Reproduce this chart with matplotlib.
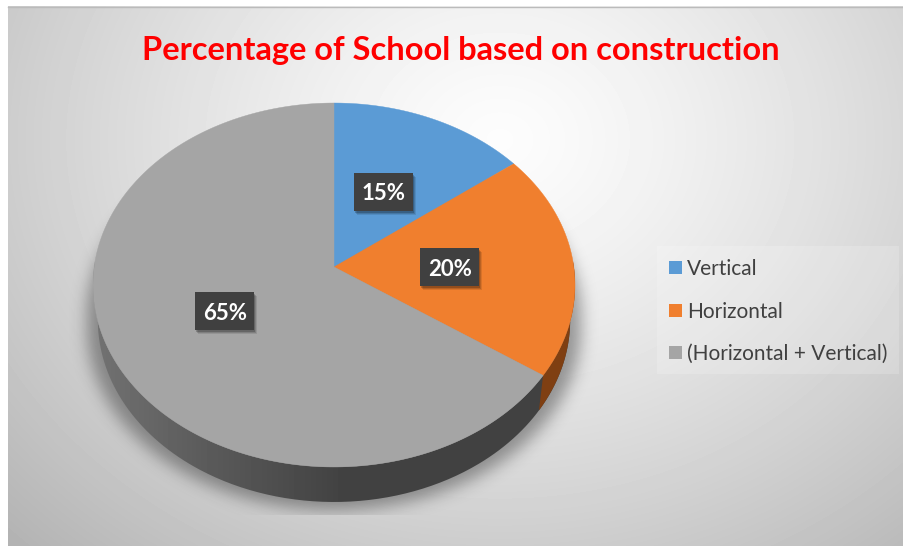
import numpy as np
import matplotlib
matplotlib.use("Agg")
import matplotlib.pyplot as plt
from matplotlib.patches import Rectangle
from matplotlib.path import Path

TITLE = "Percentage of School based on construction"
CATEGORIES = ["Vertical", "Horizontal", "(Horizontal + Vertical)"]
VALUES = [15, 20, 65]
COLORS = ["#5B9BD5", "#F07F2E", "#A5A5A5"]
SIDE_COLORS = ["#2F5F8A", "#7F3F12", None]

W, H = 904, 547
APEX = (334, 267)
DEPTH = 35
BOTTOM_SCALE = 0.98
# perspective of the tilted disc, fitted to the picture
A, B, K = 239.8, 180.2, 0.0989
LABEL_XY = [(384, 192), (450, 267), (225, 311)]
LEGEND_Y = [267, 310, 352]


def project(theta):
    theta = theta - 0.03 * np.sin(theta)
    x, y = np.sin(theta), np.cos(theta)
    den = 1 + K * y
    return APEX[0] + A * x / den, APEX[1] - B * y / den


def lower_rim(sx, sy):
    return APEX[0] + (sx - APEX[0]) * BOTTOM_SCALE, sy + DEPTH


def blur(img, sigma):
    fy = np.fft.fftfreq(img.shape[0])[:, None]
    fx = np.fft.fftfreq(img.shape[1])[None, :]
    g = np.exp(-2 * (np.pi * sigma) ** 2 * (fx ** 2 + fy ** 2))
    return np.real(np.fft.ifft2(np.fft.fft2(img) * g))


fig = plt.figure(figsize=(W / 100, H / 100), dpi=100, facecolor="white")
ax = fig.add_axes([0, 0, 1, 1])

# background gradient
xx, yy = np.meshgrid(np.arange(W) + 0.5, np.arange(H) + 0.5)
d = np.hypot((xx - 500) / 520, (yy - 140) / 430)
bg = np.clip(0.99 - 0.2 * d ** 1.3, 0, 1)
extent = (8, W, 546, 6)
x0, x1, y1, y0 = extent
ax.imshow(bg[y0:y1, x0:x1], cmap="gray", vmin=0, vmax=1, extent=extent,
          aspect="auto", zorder=0, interpolation="bilinear")
ax.plot([8, W], [6.5, 6.5], color="#BBBBBB", lw=1, zorder=1)

# outline of disc
t = np.linspace(0, 2 * np.pi, 721)
ex, ey = project(t)

# soft shadow under the pie, cut off flat at the bottom
pts = np.column_stack([xx.ravel(), yy.ravel()])
wide = APEX[0] + (ex - APEX[0]) * 1.025
sil = Path(np.column_stack([wide, ey + DEPTH + 8])).contains_points(pts).reshape(H, W)
sil |= Path(np.column_stack([wide, ey + 30])).contains_points(pts).reshape(H, W)
shadow = blur(sil.astype(float), 8)
shadow[515:, :] = 0
rgba = np.zeros((H, W, 4))
rgba[..., 3] = 0.36 * shadow
rgba[:y0, :] = 0
rgba[:, :x0] = 0
ax.imshow(rgba, extent=(0, W, H, 0), aspect="auto", zorder=1.5)

# side wall, dark gradient
grad = np.interp(np.arange(W), [90, 200, 340, 580], [0.45, 0.36, 0.26, 0.26])
im = ax.imshow(np.tile(grad, (H, 1)), cmap="gray", vmin=0, vmax=1,
               extent=(0, W, H, 0), aspect="auto", zorder=2)
lower = np.linspace(np.pi / 2, 3 * np.pi / 2, 361)
lx, ly = project(lower)
bx, by = lower_rim(lx, ly)
wall = np.column_stack([np.r_[lx, bx[::-1]], np.r_[ly, by[::-1]]])
im.set_clip_path(Path(wall), transform=ax.transData)

# wedges
edges = np.cumsum([0] + VALUES) / sum(VALUES) * 2 * np.pi
for i, val in enumerate(VALUES):
    th = np.linspace(edges[i], edges[i + 1], max(int(val * 6), 8))
    px, py = project(th)
    if SIDE_COLORS[i] is not None:
        vis = th[(th >= np.pi / 2) & (th <= 3 * np.pi / 2)]
        if len(vis) > 1:
            sx, sy = project(vis)
            qx, qy = lower_rim(sx, sy)
            ax.fill(np.r_[sx, qx[::-1]], np.r_[sy, qy[::-1]],
                    color=SIDE_COLORS[i], lw=0, zorder=3)
    ax.fill(np.r_[APEX[0], px], np.r_[APEX[1], py], color=COLORS[i], lw=0.3,
            ec=COLORS[i], zorder=4)

# data labels
for (lx_, ly_), val in zip(LABEL_XY, VALUES):
    for off, a in [(4, 0.10), (3, 0.14), (2, 0.2)]:
        ax.add_patch(Rectangle((lx_ - 29.5 + off - 1, ly_ - 19 + off), 59, 38,
                               fc="black", ec="none", alpha=a, zorder=5))
    ax.add_patch(Rectangle((lx_ - 29.5, ly_ - 19), 59, 38, fc="#404040",
                           ec="none", zorder=6))
    ax.text(lx_, ly_, f"{val}%", color="white", fontsize=16, fontweight="bold",
            family="Lato", ha="center", va="center_baseline", zorder=7)

# legend
ax.add_patch(Rectangle((657, 246), 242, 128, fc="white", ec="none", alpha=0.18,
                       zorder=2))
for name, col, y in zip(CATEGORIES, COLORS, LEGEND_Y):
    ax.add_patch(Rectangle((669, y - 6.5), 13, 13, fc=col, ec="none", zorder=3))
    ax.text(687, y, name, color="#404040", fontsize=15, family="Lato",
            ha="left", va="center_baseline", zorder=3)

ax.text(461, 48, TITLE, color="#FF0000", fontsize=23.5, fontweight="bold",
        family="Lato", ha="center", va="center_baseline", zorder=3)

ax.set_xlim(0, W)
ax.set_ylim(H, 0)
ax.axis("off")

fig.savefig("out.png", dpi=100)
